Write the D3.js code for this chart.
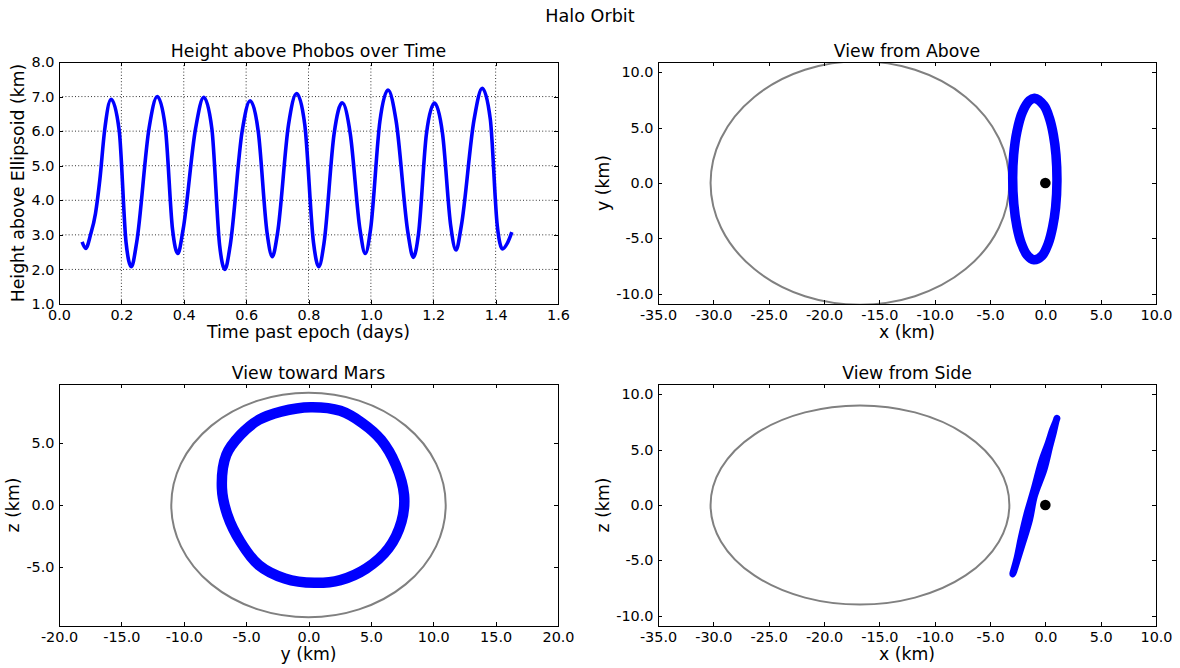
<!DOCTYPE html>
<html>
<head>
<meta charset="utf-8">
<script src="https://cdn.jsdelivr.net/npm/d3@7"></script>
<style>
  html, body { margin: 0; padding: 0; background: #fff; }
  svg { display: block; font-family: "DejaVu Sans", sans-serif; }
</style>
</head>
<body>
<svg id="fig" width="1180" height="668"></svg>
<script>
// Height above the Phobos ellipsoid over time
const timeDays = [0.074, 0.086, 0.101, 0.117, 0.131, 0.146, 0.167, 0.193, 0.215, 0.232,
                  0.249, 0.289, 0.315, 0.341, 0.364, 0.381, 0.398, 0.438, 0.464, 0.490,
                  0.515, 0.532, 0.549, 0.587, 0.613, 0.639, 0.667, 0.684, 0.701, 0.736,
                  0.762, 0.788, 0.816, 0.833, 0.850, 0.882, 0.908, 0.934, 0.965, 0.982,
                  0.999, 1.029, 1.055, 1.081, 1.119, 1.136, 1.153, 1.178, 1.204, 1.230,
                  1.256, 1.273, 1.290, 1.331, 1.357, 1.383, 1.405, 1.422, 1.437, 1.452];
const heightKm = [2.80, 2.61, 3.00, 3.62, 4.60, 6.00, 6.92, 6.02, 2.78, 2.08,
                  2.78, 6.10, 7.00, 6.10, 3.16, 2.46, 3.16, 6.08, 6.98, 6.08,
                  2.70, 2.00, 2.70, 5.98, 6.88, 5.98, 3.07, 2.37, 3.07, 6.19,
                  7.09, 6.19, 2.78, 2.08, 2.78, 5.92, 6.82, 5.92, 3.16, 2.46,
                  3.16, 6.29, 7.19, 6.29, 3.05, 2.35, 3.05, 5.91, 6.81, 5.91,
                  3.26, 2.56, 3.26, 6.34, 7.24, 6.34, 3.29, 2.59, 2.75, 3.08];

// One revolution of the halo orbit, Phobos-centred frame (km)
const orbitX = [-1.04, -0.31, 0.27, 0.66, 0.93, 1.05, 0.96, 0.73, 0.38, -0.12,
                -0.99, -1.43, -2.07, -2.57, -2.86, -2.95, -2.85, -2.56, -2.17, -1.66];
const orbitY = [-6.94, -6.59, -5.46, -3.98, -2.20, 0.18, 2.55, 4.33, 5.82, 7.00,
                 7.66, 7.45, 6.41, 4.63, 2.55, 0.47, -1.90, -3.98, -5.46, -6.50];
const orbitZ = [1.34, 4.02, 5.62, 6.83, 7.49, 7.84, 7.55, 6.56, 5.22, 3.21,
                0.80, -1.34, -3.48, -5.09, -6.02, -6.24, -5.89, -4.82, -2.94, -0.80];

// Phobos reference ellipsoid (centre and semi-axes, km)
const ellipsoidCenter = [-16.75, 0, 0];
const ellipsoidAxes = [13.5, 11.0, 9.0];

// Tick values
const timeTicks = [0.0, 0.2, 0.4, 0.6, 0.8, 1.0, 1.2, 1.4, 1.6];
const heightTicks = [1, 2, 3, 4, 5, 6, 7, 8];
const xTicks = [-35, -30, -25, -20, -15, -10, -5, 0, 5, 10];
const yzTicks = [-10, -5, 0, 5, 10];
const marsYTicks = [-20, -15, -10, -5, 0, 5, 10, 15, 20];
const marsZTicks = [-5, 0, 5];

const TICK_FONT = 14.4;
const LABEL_FONT = 17.3;
const BLUE = "#0000ff";
const GREY = "#808080";
const fmt = d => d.toFixed(1);

const svg = d3.select("#fig");

svg.append("text")
  .attr("x", 590).attr("y", 22)
  .attr("text-anchor", "middle")
  .attr("font-size", 17.6)
  .text("Halo Orbit");

let clipCount = 0;

function makePanel(box, xDomain, yDomain, xt, yt, title, xLabel, yLabel, grid) {
  const g = svg.append("g");
  const x = d3.scaleLinear().domain(xDomain).range([box.x0, box.x1]);
  const y = d3.scaleLinear().domain(yDomain).range([box.y1, box.y0]);

  if (grid) {
    const gg = g.append("g")
      .attr("stroke", "#000").attr("stroke-width", 0.8)
      .attr("stroke-dasharray", "1,2.2");
    xt.slice(1, -1).forEach(v => gg.append("line")
      .attr("x1", x(v)).attr("x2", x(v)).attr("y1", box.y0).attr("y2", box.y1));
    yt.slice(1, -1).forEach(v => gg.append("line")
      .attr("y1", y(v)).attr("y2", y(v)).attr("x1", box.x0).attr("x2", box.x1));
  }

  const id = "clip" + (clipCount++);
  svg.append("clipPath").attr("id", id).append("rect")
    .attr("x", box.x0).attr("y", box.y0)
    .attr("width", box.x1 - box.x0).attr("height", box.y1 - box.y0);
  const plot = g.append("g").attr("clip-path", `url(#${id})`);

  const styleAxis = sel => {
    sel.attr("font-family", "DejaVu Sans").attr("font-size", TICK_FONT);
    sel.select(".domain").remove();
    sel.selectAll("line").attr("stroke", "#000").attr("shape-rendering", "crispEdges");
    sel.selectAll("text").attr("fill", "#000");
  };

  const axes = g.append("g");
  axes.append("g").attr("transform", `translate(0,${box.y1})`)
    .call(d3.axisBottom(x).tickValues(xt).tickFormat(fmt)
      .tickSizeInner(-4).tickSizeOuter(0).tickPadding(6)).call(styleAxis);
  axes.append("g").attr("transform", `translate(0,${box.y0})`)
    .call(d3.axisTop(x).tickValues(xt).tickFormat(() => "")
      .tickSizeInner(-4).tickSizeOuter(0)).call(styleAxis);
  const left = axes.append("g").attr("transform", `translate(${box.x0},0)`)
    .call(d3.axisLeft(y).tickValues(yt).tickFormat(fmt)
      .tickSizeInner(-4).tickSizeOuter(0).tickPadding(4.5)).call(styleAxis);
  axes.append("g").attr("transform", `translate(${box.x1},0)`)
    .call(d3.axisRight(y).tickValues(yt).tickFormat(() => "")
      .tickSizeInner(-4).tickSizeOuter(0)).call(styleAxis);

  g.append("rect")
    .attr("x", box.x0 + 0.5).attr("y", box.y0 + 0.5)
    .attr("width", box.x1 - box.x0).attr("height", box.y1 - box.y0)
    .attr("fill", "none").attr("stroke", "#000").attr("stroke-width", 1);

  const cx = (box.x0 + box.x1) / 2;
  g.append("text")
    .attr("x", cx).attr("y", box.y0 - 5.5)
    .attr("text-anchor", "middle").attr("font-size", LABEL_FONT)
    .text(title);
  g.append("text")
    .attr("x", cx).attr("y", box.y1 + 34)
    .attr("text-anchor", "middle").attr("font-size", LABEL_FONT)
    .text(xLabel);

  let minX = Infinity;
  left.selectAll("text").each(function () {
    const b = this.getBBox();
    const m = this.getCTM();
    minX = Math.min(minX, b.x + m.e);
  });
  const lx = minX - 7.5;
  const cy = (box.y0 + box.y1) / 2;
  g.append("text")
    .attr("transform", `translate(${lx},${cy}) rotate(-90)`)
    .attr("text-anchor", "middle").attr("font-size", LABEL_FONT)
    .text(yLabel);

  return { plot, x, y };
}

// Equal-aspect vertical domain for a given horizontal domain
function equalDomain(box, xDomain) {
  const half = (xDomain[1] - xDomain[0]) * (box.y1 - box.y0) / (box.x1 - box.x0) / 2;
  return [-half, half];
}

const boxes = [
  { x0: 59,  x1: 558,  y0: 62,  y1: 304 },
  { x0: 658, x1: 1156, y0: 62,  y1: 304 },
  { x0: 59,  x1: 558,  y0: 384, y1: 626 },
  { x0: 658, x1: 1156, y0: 384, y1: 626 }
];

// Height over time
{
  const p = makePanel(boxes[0], [0, 1.6], [1, 8], timeTicks, heightTicks,
    "Height above Phobos over Time", "Time past epoch (days)",
    "Height above Ellipsoid (km)", true);
  const line = d3.line()
    .x((d, i) => p.x(timeDays[i]))
    .y(d => p.y(d))
    .curve(d3.curveMonotoneX);
  p.plot.append("path").attr("d", line(heightKm))
    .attr("fill", "none").attr("stroke", BLUE)
    .attr("stroke-width", 3.6).attr("stroke-linejoin", "round");
}

const idx = d3.range(orbitX.length);

function drawEllipse(p, cu, cv, au, av) {
  p.plot.append("ellipse")
    .attr("cx", p.x(cu)).attr("cy", p.y(cv))
    .attr("rx", Math.abs(p.x(cu + au) - p.x(cu)))
    .attr("ry", Math.abs(p.y(cv + av) - p.y(cv)))
    .attr("fill", "none").attr("stroke", GREY).attr("stroke-width", 2);
}

function drawOrbit(p, us, vs, width, filled) {
  const line = d3.line()
    .x(i => p.x(us[i])).y(i => p.y(vs[i]))
    .curve(d3.curveCatmullRomClosed.alpha(0.5));
  p.plot.append("path").attr("d", line(idx))
    .attr("fill", filled ? BLUE : "none")
    .attr("stroke", BLUE).attr("stroke-width", width)
    .attr("stroke-linejoin", "round");
}

function drawPhobosCentre(p) {
  p.plot.append("circle")
    .attr("cx", p.x(0)).attr("cy", p.y(0)).attr("r", 5.3)
    .attr("fill", "#000");
}

// View from above: x against y
{
  const xd = [-35, 10];
  const p = makePanel(boxes[1], xd, equalDomain(boxes[1], xd), xTicks, yzTicks,
    "View from Above", "x (km)", "y (km)", false);
  drawEllipse(p, ellipsoidCenter[0], ellipsoidCenter[1], ellipsoidAxes[0], ellipsoidAxes[1]);
  drawOrbit(p, orbitX, orbitY, 9.5, false);
  drawPhobosCentre(p);
}

// View toward Mars: y against z
{
  const xd = [-20, 20];
  const p = makePanel(boxes[2], xd, equalDomain(boxes[2], xd), marsYTicks, marsZTicks,
    "View toward Mars", "y (km)", "z (km)", false);
  drawEllipse(p, ellipsoidCenter[1], ellipsoidCenter[2], ellipsoidAxes[1], ellipsoidAxes[2]);
  drawOrbit(p, orbitY, orbitZ, 10.5, false);
}

// View from side: x against z
{
  const xd = [-35, 10];
  const p = makePanel(boxes[3], xd, equalDomain(boxes[3], xd), xTicks, yzTicks,
    "View from Side", "x (km)", "z (km)", false);
  drawEllipse(p, ellipsoidCenter[0], ellipsoidCenter[2], ellipsoidAxes[0], ellipsoidAxes[2]);
  drawOrbit(p, orbitX, orbitZ, 7, true);
  drawPhobosCentre(p);
}
</script>
</body>
</html>
